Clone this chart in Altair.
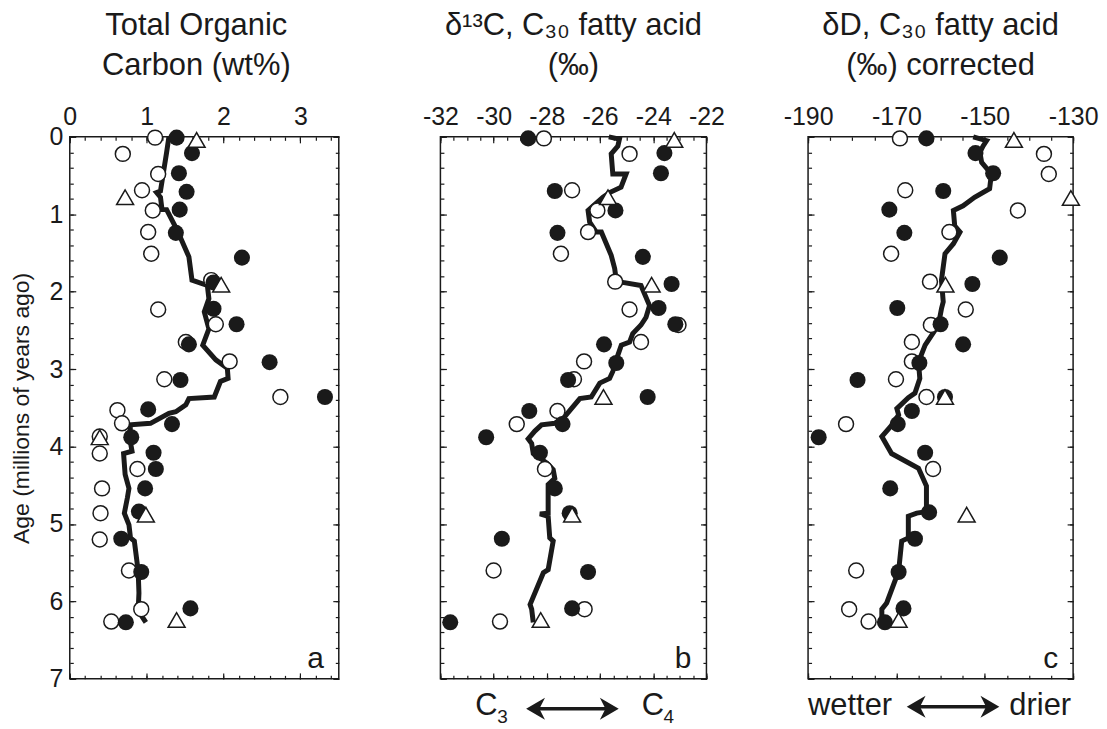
import altair as alt
import pandas as pd

FONT = "Liberation Sans"
INK = "#1a1a1a"

# ---------------- Panel a: Total Organic Carbon (wt%) ----------------
toc_open_x = [1.11, 0.69, 1.15, 0.94, 1.08, 1.02, 1.06, 1.84, 1.15, 1.90, 1.51, 2.08, 1.23,
              2.74, 0.62, 0.68, 0.39, 0.39, 0.88, 0.42, 0.40, 0.39, 0.77, 0.93, 0.54]
toc_open_age = [0.01, 0.22, 0.48, 0.69, 0.95, 1.23, 1.51, 1.85, 2.23, 2.42, 2.65, 2.90, 3.13,
                3.36, 3.53, 3.70, 3.87, 4.09, 4.29, 4.54, 4.86, 5.20, 5.60, 6.10, 6.26]
toc_fill_x = [1.39, 1.59, 1.42, 1.52, 1.43, 1.38, 2.24, 1.87, 1.87, 2.17, 1.55, 2.60, 1.44,
              3.32, 1.02, 1.33, 0.80, 1.09, 1.12, 0.98, 0.90, 0.67, 0.93, 1.57, 0.73]
toc_fill_age = [0.01, 0.21, 0.47, 0.71, 0.94, 1.24, 1.56, 1.88, 2.22, 2.42, 2.68, 2.91, 3.14,
                3.36, 3.52, 3.71, 3.88, 4.08, 4.29, 4.54, 4.84, 5.19, 5.62, 6.09, 6.27]
toc_tri_x = [1.65, 0.72, 1.97, 0.39, 0.99, 1.39]
toc_tri_age = [0.04, 0.78, 1.91, 3.88, 4.88, 6.24]
toc_line_x = [1.29, 1.26, 1.18, 1.13, 1.18, 1.20, 1.26, 1.40, 1.55, 1.59,
              1.79, 1.81, 1.75, 1.81, 1.73, 1.90, 2.05, 2.06, 1.96, 1.88,
              1.55, 1.51, 1.38, 1.29, 1.05, 0.79, 0.78, 0.81, 0.70, 0.72,
              0.77, 0.75, 0.71, 0.77, 0.79, 0.84, 0.89, 0.90, 0.89, 0.99]
toc_line_age = [0.00, 0.20, 0.70, 0.72, 0.78, 0.94, 0.94, 1.21, 1.55, 1.85,
                1.92, 2.09, 2.26, 2.48, 2.69, 2.88, 2.99, 3.12, 3.16, 3.36,
                3.38, 3.46, 3.55, 3.57, 3.70, 3.72, 3.89, 4.06, 4.09, 4.36,
                4.54, 4.66, 4.86, 5.01, 5.18, 5.22, 5.61, 5.89, 6.12, 6.27]

# ---------------- Panel b: d13C, C30 fatty acid (permil) ----------------
c13_open_x = [-28.11, -24.89, -27.05, -26.10, -26.45, -27.47, -25.43, -24.89, -23.05, -24.46,
              -26.60, -26.98, -27.60, -29.13, -28.07, -30.00, -26.58, -29.76]
c13_open_age = [0.02, 0.22, 0.69, 0.95, 1.23, 1.51, 1.87, 2.23, 2.43, 2.65,
                2.90, 3.13, 3.54, 3.71, 4.29, 5.60, 6.10, 6.26]
c13_fill_x = [-28.70, -23.58, -23.71, -27.70, -25.42, -27.60, -24.39, -23.31, -23.80, -23.17,
              -25.85, -25.39, -27.20, -24.21, -28.66, -27.41, -30.28, -28.26, -27.70, -27.14,
              -29.69, -26.45, -27.05, -31.63]
c13_fill_age = [0.02, 0.21, 0.47, 0.70, 0.95, 1.24, 1.55, 1.90, 2.21, 2.42,
                2.68, 2.92, 3.14, 3.36, 3.54, 3.71, 3.88, 4.08, 4.54, 4.86,
                5.19, 5.62, 6.09, 6.27]
c13_tri_x = [-23.21, -25.70, -24.06, -25.87, -27.05, -28.23]
c13_tri_age = [0.04, 0.78, 1.91, 3.36, 4.88, 6.24]
c13_line_x = [-25.67, -25.27, -25.33, -25.58, -25.52, -25.02, -25.21, -25.64, -25.89, -26.45,
              -26.39, -26.14, -25.95, -25.58, -25.45, -25.39, -25.14, -24.46, -24.14, -24.27,
              -24.46, -24.77, -24.89, -25.20, -25.39, -25.52, -25.64, -26.01, -26.33, -26.76,
              -27.32, -27.70, -28.20, -28.45, -28.70, -28.57, -28.51, -28.01, -27.76, -27.70,
              -27.95, -27.95, -28.26, -27.95, -27.89, -27.76, -27.95, -28.13, -28.63, -28.57,
              -28.51]
c13_line_age = [0.00, 0.03, 0.12, 0.22, 0.48, 0.48, 0.65, 0.72, 0.78, 0.95,
                1.10, 1.23, 1.23, 1.53, 1.70, 1.85, 1.88, 1.92, 2.18, 2.33,
                2.43, 2.54, 2.65, 2.69, 2.88, 3.03, 3.12, 3.18, 3.36, 3.38,
                3.61, 3.70, 3.72, 3.80, 3.90, 3.96, 4.09, 4.21, 4.30, 4.41,
                4.49, 4.86, 4.87, 4.90, 5.18, 5.22, 5.59, 5.63, 6.04, 6.10,
                6.27]

# ---------------- Panel c: dD, C30 fatty acid (permil) corrected ----------------
dd_open_x = [-169.2, -136.6, -135.5, -168.0, -142.5, -158.0, -171.2, -162.4, -154.3, -162.2,
             -166.5, -166.5, -170.1, -163.2, -181.4, -161.7, -179.1, -180.7, -176.3]
dd_open_age = [0.02, 0.22, 0.48, 0.69, 0.95, 1.23, 1.51, 1.87, 2.23, 2.43,
               2.65, 2.90, 3.13, 3.36, 3.71, 4.29, 5.60, 6.10, 6.26]
dd_fill_x = [-163.2, -152.1, -148.1, -159.4, -171.6, -168.2, -146.6, -152.8, -169.8, -160.0,
             -154.9, -164.8, -178.8, -159.0, -166.5, -169.7, -187.6, -163.5, -171.4, -162.6,
             -165.8, -169.5, -168.4, -172.6]
dd_fill_age = [0.02, 0.21, 0.47, 0.70, 0.94, 1.24, 1.56, 1.90, 2.21, 2.42,
               2.68, 2.92, 3.14, 3.36, 3.54, 3.71, 3.88, 4.08, 4.54, 4.85,
               5.19, 5.62, 6.09, 6.27]
dd_tri_x = [-143.4, -130.5, -158.9, -159.0, -154.1, -169.5]
dd_tri_age = [0.04, 0.79, 1.91, 3.36, 4.88, 6.24]
dd_line_x = [-152.6, -149.6, -150.4, -151.1, -150.7, -148.5, -148.9, -152.3, -154.9, -157.1,
             -156.8, -155.6, -157.1, -159.0, -159.8, -159.4, -159.8, -160.5, -163.5, -165.0,
             -164.7, -165.8, -167.3, -169.9, -169.5, -171.0, -173.3, -171.1, -165.0, -163.2,
             -163.2, -165.4, -167.3, -167.3, -168.8, -169.5, -172.2, -173.3, -173.3]
dd_line_age = [0.00, 0.05, 0.12, 0.20, 0.33, 0.48, 0.67, 0.78, 0.89, 0.95,
               1.15, 1.23, 1.38, 1.51, 1.85, 2.13, 2.22, 2.43, 2.69, 2.91,
               3.12, 3.31, 3.37, 3.51, 3.59, 3.72, 3.87, 4.09, 4.28, 4.51,
               4.84, 4.86, 4.90, 5.18, 5.22, 5.61, 6.02, 6.10, 6.27]

# ---------------- axes / labels ----------------
AGE_TITLE = "Age (millions of years ago)"
AGE_LABELS = [0, 1, 2, 3, 4, 5, 6, 7]
AGE_MINOR = [i / 5 for i in range(36)]

TOC_DOMAIN = [0, 3.5]
TOC_LABELS = [0, 1, 2, 3]
TOC_MINOR = [i / 5 for i in range(18)]
C13_DOMAIN = [-32, -22]
C13_LABELS = [-32, -30, -28, -26, -24, -22]
C13_MINOR = [-32 + i / 2 for i in range(21)]
DD_DOMAIN = [-190, -130]
DD_LABELS = [-190, -170, -150, -130]
DD_MINOR = [-190 + 5 * i for i in range(13)]

TITLE_A = ["Total Organic", "Carbon (wt%)"]
TITLE_B = ["δ¹³C, C₃₀ fatty acid", "(‰)"]
TITLE_C = ["δD, C₃₀ fatty acid", "(‰) corrected"]

H = 544
MAJOR = 6
MINOR = 3.5

LEFT_HEAD = "M-0.86,0L0.86,-1L0.35,0L0.86,1Z"
RIGHT_HEAD = "M0.86,0L-0.86,-1L-0.35,0L-0.86,1Z"


def pts(xs, ages):
    return pd.DataFrame({"v": xs, "age": ages})


def path(xs, ages):
    return pd.DataFrame({"v": xs, "age": ages, "i": list(range(len(xs)))})


def tick_axis(orient, values, size, off):
    return alt.Axis(orient=orient, values=values, tickSize=size, offset=off,
                    labels=False, domain=False, grid=False, title=None,
                    tickColor=INK, tickWidth=1.2)


def text(t, x, y, size, align="left"):
    return alt.Chart(pd.DataFrame({"t": [t]})).mark_text(
        fontSize=size, align=align, baseline="alphabetic", color=INK, font=FONT
    ).encode(text="t:N", x=alt.value(x), y=alt.value(y))


def arrow(x1, x2, y):
    dummy = pd.DataFrame({"k": [0]})
    shaft = alt.Chart(dummy).mark_rule(color=INK, strokeWidth=3.5).encode(
        x=alt.value(x1 + 8), x2=alt.value(x2 - 8), y=alt.value(y))
    lh = alt.Chart(dummy).mark_point(shape=LEFT_HEAD, filled=True, color=INK, opacity=1,
                                     size=484, strokeWidth=0).encode(
        x=alt.value(x1 + 9.5), y=alt.value(y))
    rh = alt.Chart(dummy).mark_point(shape=RIGHT_HEAD, filled=True, color=INK, opacity=1,
                                     size=484, strokeWidth=0).encode(
        x=alt.value(x2 - 9.5), y=alt.value(y))
    return [shaft, lh, rh]


def panel(width, domain, labels, minor, d_open, d_fill, d_tri, d_line, title, title_dx,
          letter, show_age, notes):
    xsc = alt.Scale(domain=domain, nice=False, zero=False)
    ysc = alt.Scale(domain=[0, 7], reverse=True, nice=False, zero=False)
    xlab = alt.Axis(orient="top", values=labels, ticks=False, tickSize=0, domain=False,
                    grid=False, labelFontSize=25, labelPadding=7, labelFlush=False,
                    labelOverlap=False, labelExpr="'' + datum.value", title=None,
                    labelColor=INK, labelFont=FONT)
    if show_age:
        ylab = alt.Axis(orient="left", values=AGE_LABELS, ticks=False, tickSize=0,
                        domain=False, grid=False, labelFontSize=25, labelPadding=7,
                        labelOverlap=False, labelColor=INK, labelFont=FONT,
                        title=AGE_TITLE, titleFontSize=23, titleFontWeight="normal",
                        titlePadding=16, titleColor=INK, titleFont=FONT)
    else:
        ylab = None

    def enc(ch, xa, ya):
        return ch.encode(x=alt.X("v:Q", scale=xsc, axis=xa),
                         y=alt.Y("age:Q", scale=ysc, axis=ya))

    line = enc(alt.Chart(d_line).mark_line(color=INK, strokeWidth=5), xlab, ylab
               ).encode(order=alt.Order("i:Q"))
    opn = enc(alt.Chart(d_open).mark_point(shape="circle", size=225, filled=True,
                                           fill="white", stroke=INK, strokeWidth=1.5,
                                           opacity=1),
              tick_axis("bottom", labels, MAJOR, -H),
              tick_axis("right", AGE_LABELS, MAJOR, -width))
    fil = enc(alt.Chart(d_fill).mark_point(shape="circle", size=260, filled=True,
                                           color=INK, opacity=1),
              tick_axis("top", labels, MAJOR, -H),
              tick_axis("left", AGE_LABELS, MAJOR, -width))
    tri = enc(alt.Chart(d_tri).mark_point(shape="triangle-up", size=290, filled=True,
                                          fill="white", stroke=INK, strokeWidth=1.5,
                                          opacity=1),
              tick_axis("bottom", minor, MINOR, -H),
              tick_axis("right", AGE_MINOR, MINOR, -width))
    ghost = enc(alt.Chart(d_line).mark_point(opacity=0, size=1),
                tick_axis("top", minor, MINOR, -H),
                tick_axis("left", AGE_MINOR, MINOR, -width))

    layers = [line, opn, fil, tri, ghost, text(letter, width - 15, H - 11, 30, "right")]
    layers += notes
    return alt.layer(*layers).resolve_axis(x="independent", y="independent").properties(
        width=width, height=H,
        title=alt.TitleParams(text=title, fontSize=31, lineHeight=40, offset=23, dx=title_dx,
                              anchor="middle", color=INK, fontWeight="normal", font=FONT))


notes_b = [text("C", 35, 580, 31), text("3", 57, 588, 19)] + arrow(86, 179, 574) + \
          [text("C", 202, 580, 31), text("4", 224, 588, 19)]
notes_c = [text("wetter", 0, 580, 31)] + arrow(99, 192, 572) + [text("drier", 202, 580, 31)]

pa = panel(270, TOC_DOMAIN, TOC_LABELS, TOC_MINOR,
           pts(toc_open_x, toc_open_age), pts(toc_fill_x, toc_fill_age),
           pts(toc_tri_x, toc_tri_age), path(toc_line_x, toc_line_age),
           TITLE_A, -8, "a", True, [])
pb = panel(267, C13_DOMAIN, C13_LABELS, C13_MINOR,
           pts(c13_open_x, c13_open_age), pts(c13_fill_x, c13_fill_age),
           pts(c13_tri_x, c13_tri_age), path(c13_line_x, c13_line_age),
           TITLE_B, 0, "b", False, notes_b)
pc = panel(266, DD_DOMAIN, DD_LABELS, DD_MINOR,
           pts(dd_open_x, dd_open_age), pts(dd_fill_x, dd_fill_age),
           pts(dd_tri_x, dd_tri_age), path(dd_line_x, dd_line_age),
           TITLE_C, 0, "c", False, notes_c)

chart = alt.hconcat(pa, pb, pc, spacing=102, bounds="flush").properties(
    padding={"left": 1, "top": 0, "right": 0, "bottom": 0}
).configure(font=FONT).configure_view(stroke=INK, strokeWidth=1.5)

chart.save("out.html", embed_options={"renderer": "svg", "actions": False})
